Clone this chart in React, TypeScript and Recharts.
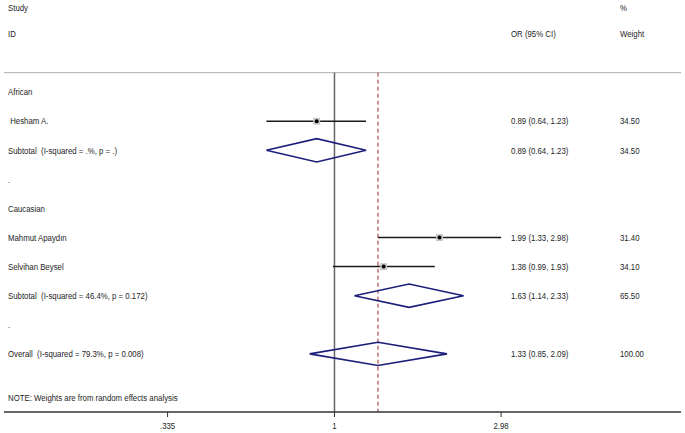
import React from 'react';
import { ComposedChart, Scatter, XAxis, YAxis, ReferenceLine } from 'recharts';

// ---- data ----
const rowLabels = [
  'African',
  ' Hesham A.',
  'Subtotal  (I-squared = .%, p = .)',
  '.',
  'Caucasian',
  'Mahmut Apaydın',
  'Selvihan Beysel',
  'Subtotal  (I-squared = 46.4%, p = 0.172)',
  '.',
  'Overall  (I-squared = 79.3%, p = 0.008)',
];
const rowKinds = ['group', 'study', 'subtotal', 'blank', 'group', 'study', 'study', 'subtotal', 'blank', 'overall'];
const orValues: (number | null)[] = [null, 0.89, 0.89, null, null, 1.99, 1.38, 1.63, null, 1.33];
const ciLow: (number | null)[] = [null, 0.64, 0.64, null, null, 1.33, 0.99, 1.14, null, 0.85];
const ciHigh: (number | null)[] = [null, 1.23, 1.23, null, null, 2.98, 1.93, 2.33, null, 2.09];
const weights: (string | null)[] = [null, '34.50', '34.50', null, null, '31.40', '34.10', '65.50', null, '100.00'];
const pooledOR = 1.33;
const xTicks = [0.335, 1, 2.98];
const xTickLabels = ['.335', '1', '2.98'];
const headerRows = [
  { label: 'Study', or: '', w: '%' },
  { label: 'ID', or: 'OR (95% CI)', w: 'Weight' },
];
const noteText = 'NOTE: Weights are from random effects analysis';

// ---- layout constants ----
const W = 685;
const H = 433;
const FONT = '"Liberation Sans", Arial, sans-serif';
const FS = 9;
const SX = 0.87;
const TXT = '#1e1e1e';
const COL_LABEL = 8;
const COL_OR = 511;
const COL_W = 620;
const X_DOMAIN: [number, number] = [0.1147, 9.686];
const Y_DOMAIN: [number, number] = [-2.17, 12];
const HEADER_Y = [-1.9, -1];
const TOP_RULE_Y = 0.33;
const NOTE_Y = 11.5;
const DIAMOND_HALF = 0.4;

const fmt = (v: number) => v.toFixed(2);

const rowsData = rowLabels.map((label, i) => ({
  x: 1,
  y: i + 1,
  label,
  or:
    orValues[i] != null
      ? `${fmt(orValues[i] as number)} (${fmt(ciLow[i] as number)}, ${fmt(ciHigh[i] as number)})`
      : '',
  w: weights[i] ?? '',
}));

const headerData = headerRows.map((h, i) => ({ x: 1, y: HEADER_Y[i], ...h }));
const noteData = [{ x: 1, y: NOTE_Y, label: noteText, or: '', w: '' }];

const NarrowText = ({ x, y, anchor, children }: any) => (
  <text
    transform={`translate(${x},${y}) scale(${SX},1)`}
    x={0}
    y={0}
    fontSize={FS}
    fontFamily={FONT}
    fill={TXT}
    textAnchor={anchor || 'start'}
    dominantBaseline="central"
    style={{ whiteSpace: 'pre' }}
  >
    {children}
  </text>
);

const TextRow = (props: any) => {
  const { cy, payload } = props;
  if (cy == null || !payload) return <g />;
  return (
    <g>
      {payload.label ? <NarrowText x={COL_LABEL} y={cy}>{payload.label}</NarrowText> : null}
      {payload.or ? <NarrowText x={COL_OR} y={cy}>{payload.or}</NarrowText> : null}
      {payload.w ? <NarrowText x={COL_W} y={cy}>{payload.w}</NarrowText> : null}
    </g>
  );
};

const AxisTick = (props: any) => {
  const { x, y, payload } = props;
  const v = payload?.value;
  const label = xTickLabels[xTicks.indexOf(v)] ?? String(v);
  return (
    <NarrowText x={x} y={y + 5} anchor="middle">
      {label}
    </NarrowText>
  );
};

const Nothing = () => <g />;

const StudyMarker = (props: any) => {
  const { cx, cy } = props;
  if (cx == null || cy == null) return <g />;
  return (
    <g>
      <rect x={cx - 3.5} y={cy - 3.5} width={7} height={7} fill="#c8c8c8" />
      <circle cx={cx} cy={cy} r={2} fill="#000" />
    </g>
  );
};

const ciSeries = rowKinds
  .map((k, i) => ({ k, i }))
  .filter(({ k }) => k === 'study')
  .map(({ i }) => [
    { x: ciLow[i] as number, y: i + 1 },
    { x: ciHigh[i] as number, y: i + 1 },
  ]);

const markerData = rowKinds
  .map((k, i) => ({ k, i }))
  .filter(({ k }) => k === 'study')
  .map(({ i }) => ({ x: orValues[i] as number, y: i + 1 }));

const diamondSeries = rowKinds
  .map((k, i) => ({ k, i }))
  .filter(({ k }) => k === 'subtotal' || k === 'overall')
  .map(({ i }) => {
    const r = i + 1;
    return [
      { x: ciLow[i] as number, y: r },
      { x: orValues[i] as number, y: r - DIAMOND_HALF },
      { x: ciHigh[i] as number, y: r },
      { x: orValues[i] as number, y: r + DIAMOND_HALF },
      { x: ciLow[i] as number, y: r },
    ];
  });

export default function App() {
  return (
    <div style={{ position: 'absolute', left: 0, top: 0, width: W, height: H, background: '#fff' }}>
      <ComposedChart width={W} height={H} margin={{ top: 0, right: 4, bottom: 0, left: 4 }}>
        <XAxis
          dataKey="x"
          type="number"
          scale="log"
          domain={X_DOMAIN}
          allowDataOverflow
          ticks={xTicks}
          interval={0}
          height={21}
          tickSize={5}
          tickMargin={4}
          axisLine={{ stroke: '#333', strokeWidth: 1.5 }}
          tickLine={{ stroke: '#333', strokeWidth: 1 }}
          tick={AxisTick}
        />
        <YAxis dataKey="y" type="number" domain={Y_DOMAIN} reversed hide allowDataOverflow />
        <ReferenceLine y={TOP_RULE_Y} stroke="#aaa" strokeWidth={1} ifOverflow="visible" />
        <ReferenceLine
          segment={[{ x: 1, y: TOP_RULE_Y }, { x: 1, y: Y_DOMAIN[1] }]}
          stroke="#666"
          strokeWidth={1.5}
          ifOverflow="visible"
        />
        <ReferenceLine
          segment={[{ x: pooledOR, y: TOP_RULE_Y }, { x: pooledOR, y: Y_DOMAIN[1] }]}
          stroke="#a3262e"
          strokeWidth={1}
          strokeDasharray="4 3"
          ifOverflow="visible"
        />
        <Scatter data={headerData} shape={TextRow} isAnimationActive={false} />
        <Scatter data={rowsData} shape={TextRow} isAnimationActive={false} />
        <Scatter data={noteData} shape={TextRow} isAnimationActive={false} />
        {ciSeries.map((d, j) => (
          <Scatter
            key={`ci${j}`}
            data={d}
            line={{ stroke: '#1a1a1a', strokeWidth: 1.5 }}
            lineType="joint"
            shape={Nothing}
            isAnimationActive={false}
          />
        ))}
        {diamondSeries.map((d, j) => (
          <Scatter
            key={`dm${j}`}
            data={d}
            line={{ stroke: '#1c1f7a', strokeWidth: 1.6, fill: 'none' }}
            lineType="joint"
            shape={Nothing}
            isAnimationActive={false}
          />
        ))}
        <Scatter data={markerData} shape={StudyMarker} isAnimationActive={false} />
      </ComposedChart>
    </div>
  );
}
